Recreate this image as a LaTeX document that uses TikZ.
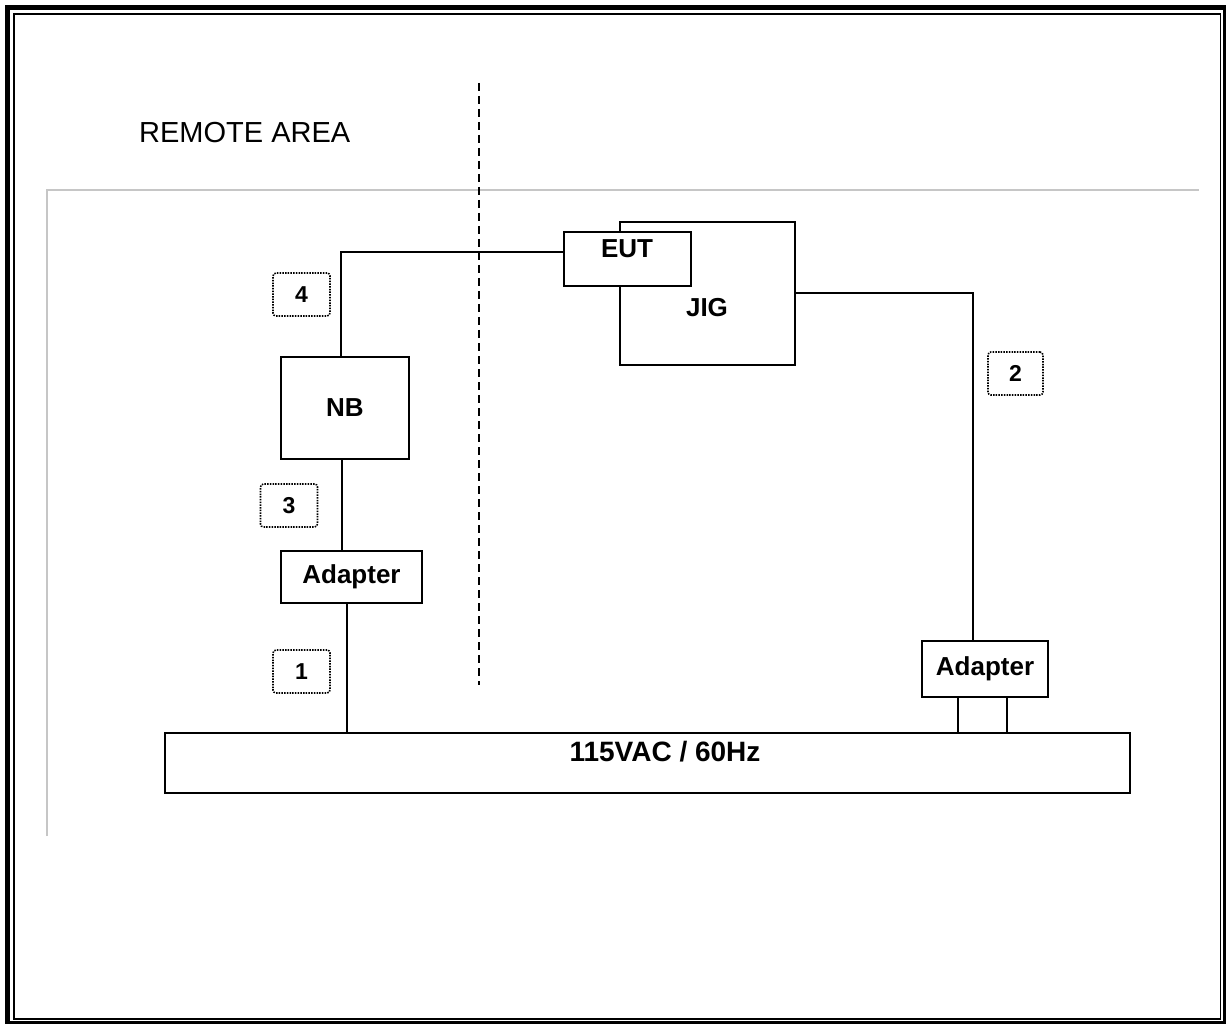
\documentclass[tikz,border=0pt]{standalone}
\usepackage{fontspec}
\setmainfont{Liberation Sans}
\usetikzlibrary{positioning}

\begin{document}
\begin{tikzpicture}[
  x=1pt, y=-1pt,
  box/.style={draw, line width=2pt, fill=white, inner sep=0pt,
              font=\fontsize{26}{30}\selectfont\bfseries},
  lbl/.style={inner sep=0pt, font=\fontsize{26}{30}\selectfont\bfseries},
  tag/.style={draw, dash pattern=on 1.5pt off 1.2pt, line width=1.6pt,
              rounded corners=3pt, inner sep=0pt, minimum width=57pt,
              minimum height=43pt, font=\fontsize{23}{27}\selectfont\bfseries},
  wire/.style={line width=2pt},
  split/.style={dash pattern=on 8pt off 5pt, line width=2.2pt},
]
  \useasboundingbox (0,0) rectangle (1226,1024);
  \draw[line width=5pt] (7.5,7.5) rectangle (1225,1023.5);
  \draw[line width=1.7pt] (13.8,14) rectangle (1220.5,1019);

  \draw[line width=2pt, color=gray!45] (47,836) -- (47,190) -- (1199,190);
  \draw[split] (479,83) -- (479,685);

  \node[anchor=base west, inner sep=0pt, font=\fontsize{29}{34}\selectfont]
    (remote) at (139,143) {REMOTE AREA};

  \node[box, minimum width=175pt, minimum height=143pt] (jig) at (707.5,293.5) {};
  \node[lbl] (jiglbl) at (707,308) {JIG};
  \node[box, minimum width=127pt, minimum height=54pt] (eut) at (627.5,259) {};
  \node[lbl] (eutlbl) at (627,249) {EUT};

  \node[box, minimum width=128pt, minimum height=102pt] (nb) at (345,408) {NB};
  \node[box, minimum width=141pt, minimum height=52pt] (adl) at (351.5,577) {Adapter};
  \node[box, minimum width=126pt, minimum height=56pt] (adr) at (985,669) {Adapter};

  \node[box, minimum width=965pt, minimum height=60pt] (mains) at (647.5,763) {};
  \node[lbl, font=\fontsize{28}{32}\selectfont\bfseries] (mainslbl) at (665,752) {115VAC / 60Hz};

  \node[tag] (tag4) at (301.5,294.5) {4};
  \node[tag] (tag3) at (289,505.5) {3};
  \node[tag] (tag1) at (301.5,671.5) {1};
  \node[tag, minimum width=55pt] (tag2) at (1015.5,373.5) {2};

  \draw[wire] ([yshift=7pt]eut.west) -| ([xshift=-4pt]nb.north);
  \draw[wire] ([xshift=-3pt]nb.south) -- ([xshift=-3pt]nb.south |- adl.north);
  \draw[wire] ([xshift=-5pt]adl.south) -- ([xshift=-5pt]adl.south |- mains.north);
  \draw[wire] (jig.east) -| ([xshift=-12pt]adr.north);
  \draw[wire] ([xshift=-27pt]adr.south) -- ([xshift=-27pt]adr.south |- mains.north);
  \draw[wire] ([xshift=22pt]adr.south) -- ([xshift=22pt]adr.south |- mains.north);
\end{tikzpicture}
\end{document}
